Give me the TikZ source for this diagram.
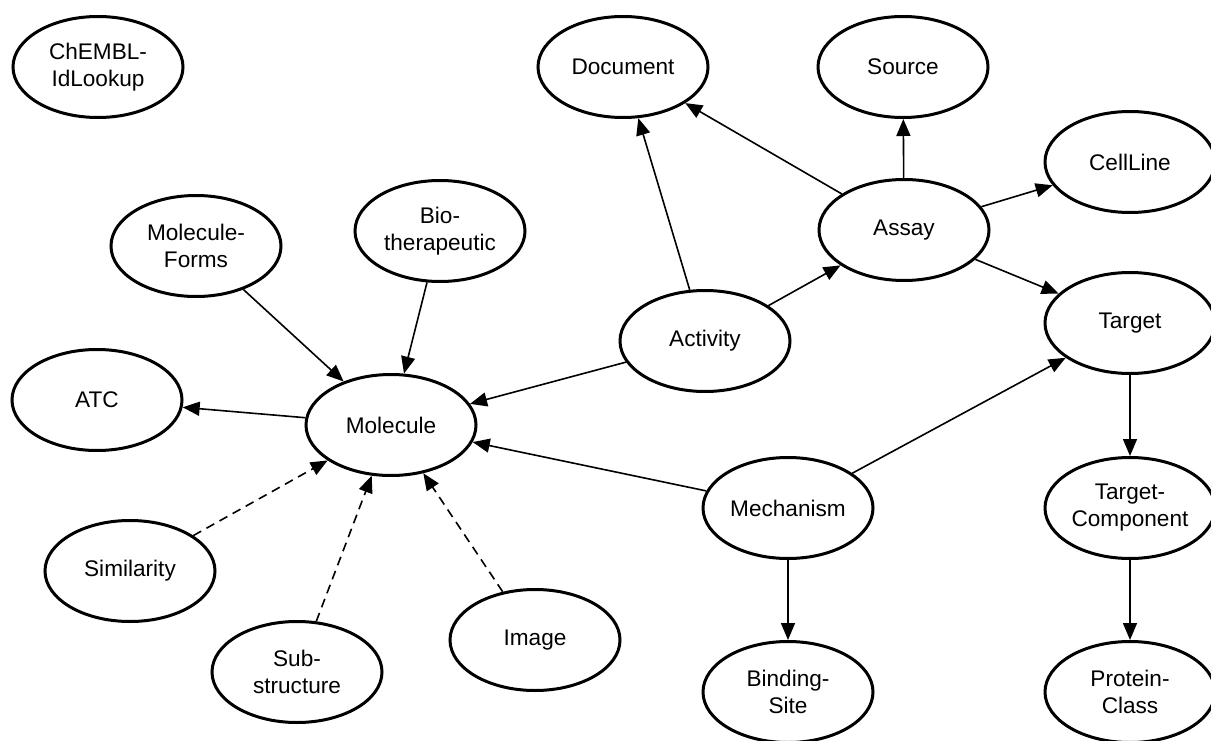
\documentclass[tikz,border=0pt]{standalone}
\usepackage{fontspec}
\setmainfont{Liberation Sans}
\usetikzlibrary{shapes.geometric,arrows.meta}
\begin{document}
\begin{tikzpicture}[x=1pt,y=-1pt,
  ent/.style={ellipse, draw=black, line width=3pt, minimum width=170pt, minimum height=101pt,
    inner sep=0pt, align=center, font=\fontsize{22.6}{27}\selectfont},
  rel/.style={line width=1.6pt, -{Triangle[length=17pt,width=14pt]}},
  optrel/.style={rel, dash pattern=on 9pt off 6pt}
]
\useasboundingbox (0,0) rectangle (1211,741);

\node[ent] (chembl)   at (98,67)   {ChEMBL-\\IdLookup};
\node[ent] (document) at (623,67)  {Document};
\node[ent] (source)   at (903,67)  {Source};
\node[ent] (cellline) at (1130,162) {CellLine};
\node[ent] (assay)    at (904,230) {Assay};
\node[ent] (molforms) at (196,246) {Molecule-\\Forms};
\node[ent] (biothera) at (440,231) {Bio-\\therapeutic};
\node[ent] (activity) at (705,341) {Activity};
\node[ent] (target)   at (1130,323) {Target};
\node[ent] (atc)      at (97,400)  {ATC};
\node[ent] (molecule) at (391,425) {Molecule};
\node[ent] (mechanism) at (788,508) {Mechanism};
\node[ent] (tcomp)    at (1130,508) {Target-\\Component};
\node[ent] (similarity) at (130,571) {Similarity};
\node[ent] (substructure) at (297,672) {Sub-\\structure};
\node[ent] (image)    at (535,640) {Image};
\node[ent] (binding)  at (788,692) {Binding-\\Site};
\node[ent] (protclass) at (1130,692) {Protein-\\Class};

\draw[rel] (activity) -- (document);
\draw[rel] (assay) -- (document);
\draw[rel] (assay) -- (source);
\draw[rel] (assay) -- (cellline);
\draw[rel] (assay) -- (target);
\draw[rel] (activity) -- (assay);
\draw[rel] (activity) -- (molecule);
\draw[rel] (molforms) -- (molecule);
\draw[rel] (biothera) -- (molecule);
\draw[rel] (molecule) -- (atc);
\draw[rel] (mechanism) -- (molecule);
\draw[rel] (mechanism) -- (target);
\draw[rel] (mechanism) -- (binding);
\draw[rel] (target) -- (tcomp);
\draw[rel] (tcomp) -- (protclass);
\draw[optrel] (similarity) -- (molecule);
\draw[optrel] (substructure) -- (molecule);
\draw[optrel] (image) -- (molecule);
\end{tikzpicture}
\end{document}
